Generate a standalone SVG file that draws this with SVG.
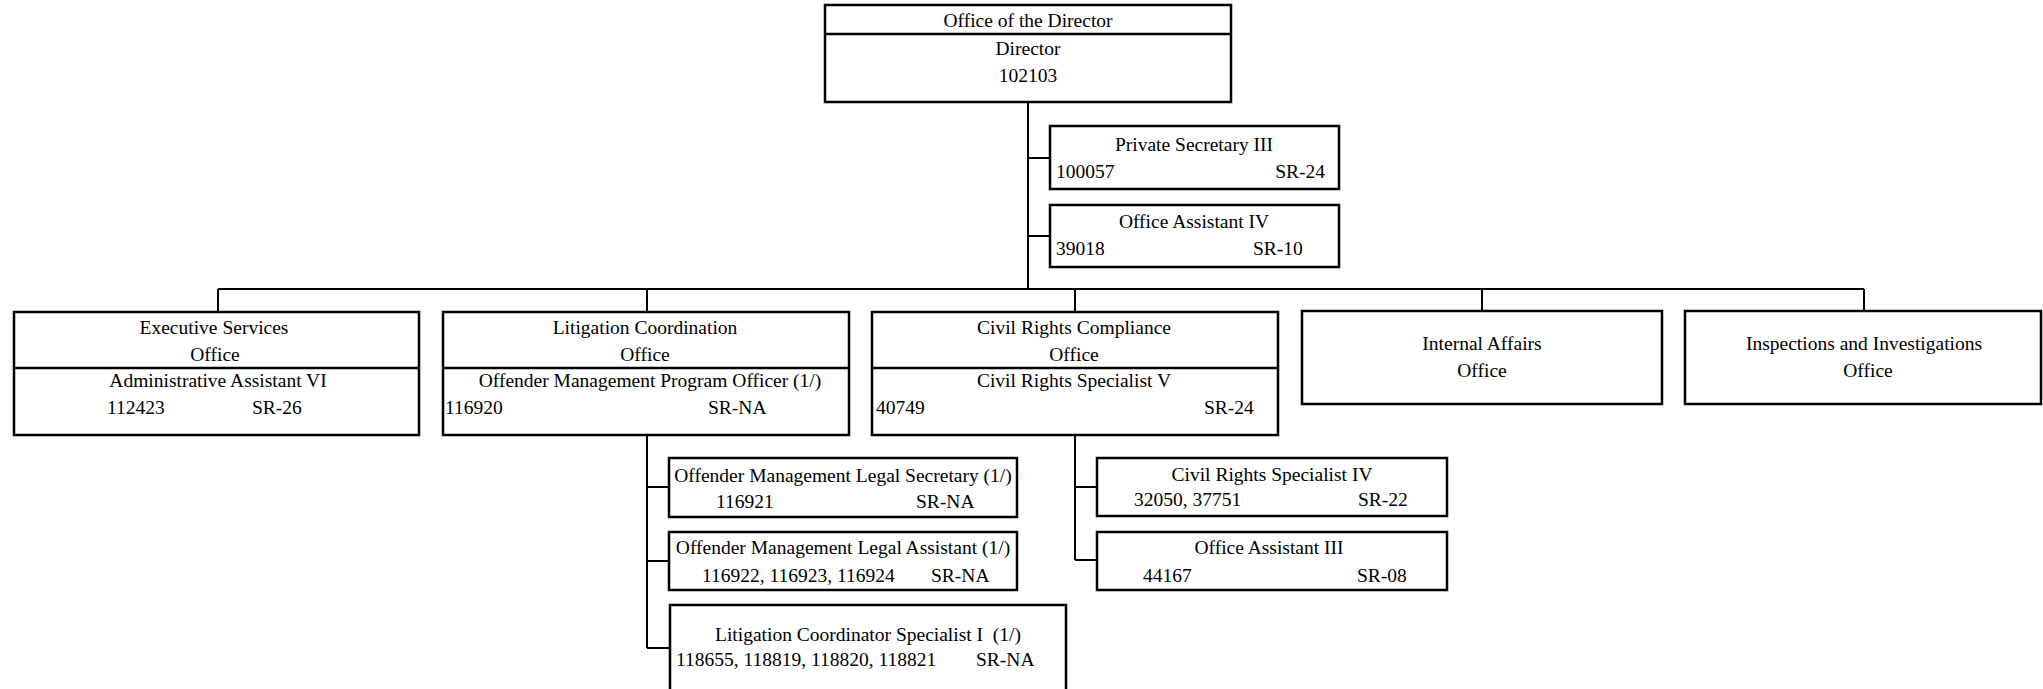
<svg xmlns="http://www.w3.org/2000/svg" width="2043" height="689" viewBox="0 0 2043 689">
<style>
.box{fill:#fff;stroke:#000;stroke-width:2.5}
.div{stroke:#000;stroke-width:2.5}
.con{fill:none;stroke:#000;stroke-width:2}
text{font-family:"Liberation Serif","Times New Roman",serif;font-size:19.5px;fill:#000}
.c{text-anchor:middle}
.e{text-anchor:end}
</style>
<rect width="2043" height="689" fill="#fff"/>
<g id="connectors">
<path class="con" d="M1028 102V289M1028 158H1050M1028 236H1050"/>
<path class="con" d="M218 289H1864M218 289V312M647 289V312M1075 289V312M1482 289V311M1864 289V311"/>
<path class="con" d="M647 435V648M647 487H669M647 561H669M647 648H670"/>
<path class="con" d="M1075 435V560M1075 487H1097M1075 560H1097"/>
</g>
<g id="director">
<rect class="box" x="825" y="5" width="406" height="97"/>
<line class="div" x1="825" y1="34" x2="1231" y2="34"/>
<text class="c" x="1028" y="27">Office of the Director</text>
<text class="c" x="1028" y="55">Director</text>
<text class="c" x="1028" y="82">102103</text>
</g>
<g id="private-secretary">
<rect class="box" x="1050" y="126" width="289" height="63"/>
<text class="c" x="1194" y="151">Private Secretary III</text>
<text x="1056" y="178">100057</text>
<text class="e" x="1325" y="178">SR-24</text>
</g>
<g id="office-assistant-iv">
<rect class="box" x="1050" y="205" width="289" height="62"/>
<text class="c" x="1194" y="228">Office Assistant IV</text>
<text x="1056" y="255">39018</text>
<text x="1253" y="255">SR-10</text>
</g>
<g id="executive-services">
<rect class="box" x="14" y="312" width="405" height="123"/>
<line class="div" x1="14" y1="368" x2="419" y2="368"/>
<text class="c" x="214" y="334">Executive Services</text>
<text class="c" x="215" y="361">Office</text>
<text class="c" x="218" y="387">Administrative Assistant VI</text>
<text x="107" y="414">112423</text>
<text x="252" y="414">SR-26</text>
</g>
<g id="litigation-coordination">
<rect class="box" x="443" y="312" width="406" height="123"/>
<line class="div" x1="443" y1="368" x2="849" y2="368"/>
<text class="c" x="645" y="334">Litigation Coordination</text>
<text class="c" x="645" y="361">Office</text>
<text class="c" x="650" y="387">Offender Management Program Officer (1/)</text>
<text x="445" y="414">116920</text>
<text x="708" y="414">SR-NA</text>
</g>
<g id="civil-rights-compliance">
<rect class="box" x="872" y="312" width="406" height="123"/>
<line class="div" x1="872" y1="368" x2="1278" y2="368"/>
<text class="c" x="1074" y="334">Civil Rights Compliance</text>
<text class="c" x="1074" y="361">Office</text>
<text class="c" x="1074" y="387">Civil Rights Specialist V</text>
<text x="876" y="414">40749</text>
<text x="1204" y="414">SR-24</text>
</g>
<g id="internal-affairs">
<rect class="box" x="1302" y="311" width="360" height="93"/>
<text class="c" x="1482" y="350">Internal Affairs</text>
<text class="c" x="1482" y="377">Office</text>
</g>
<g id="inspections-investigations">
<rect class="box" x="1685" y="311" width="356" height="93"/>
<text class="c" x="1864" y="350">Inspections and Investigations</text>
<text class="c" x="1868" y="377">Office</text>
</g>
<g id="legal-secretary">
<rect class="box" x="669" y="458" width="348" height="59"/>
<text class="c" x="843" y="482">Offender Management Legal Secretary (1/)</text>
<text x="716" y="508">116921</text>
<text x="916" y="508">SR-NA</text>
</g>
<g id="legal-assistant">
<rect class="box" x="669" y="532" width="348" height="58"/>
<text class="c" x="843" y="554">Offender Management Legal Assistant (1/)</text>
<text x="702" y="582">116922, 116923, 116924</text>
<text x="931" y="582">SR-NA</text>
</g>
<g id="litigation-coordinator-specialist">
<rect class="box" x="670" y="605" width="396" height="100"/>
<text class="c" x="868" y="641" style="white-space:pre">Litigation Coordinator Specialist I  (1/)</text>
<text x="676" y="666">118655, 118819, 118820, 118821</text>
<text x="976" y="666">SR-NA</text>
</g>
<g id="civil-rights-specialist-iv">
<rect class="box" x="1097" y="458" width="350" height="58"/>
<text class="c" x="1272" y="481">Civil Rights Specialist IV</text>
<text x="1134" y="506">32050, 37751</text>
<text x="1358" y="506">SR-22</text>
</g>
<g id="office-assistant-iii">
<rect class="box" x="1097" y="532" width="350" height="58"/>
<text class="c" x="1269" y="554">Office Assistant III</text>
<text x="1143" y="582">44167</text>
<text x="1357" y="582">SR-08</text>
</g>
</svg>
